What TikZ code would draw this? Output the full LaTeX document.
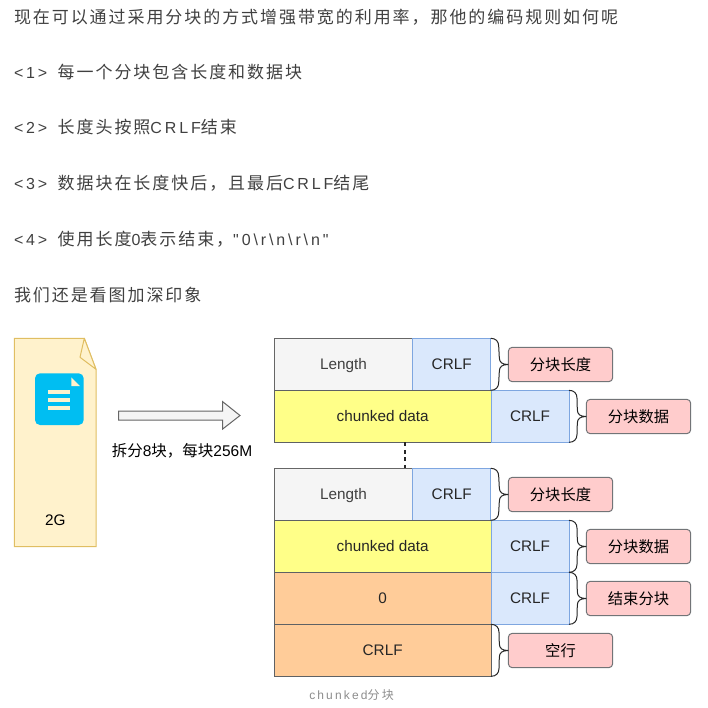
\documentclass[tikz,border=0pt]{standalone}
\usepackage{fontspec}
\usetikzlibrary{calc}
\setmainfont{Liberation Sans}
\newfontfamily\cjk{Noto Sans CJK SC}
\newfontfamily\bodycjk[LetterSpace=11.4]{Noto Sans CJK SC}
\newfontfamily\bodylat[LetterSpace=18]{Liberation Sans}
\newfontfamily\capcjk[LetterSpace=18]{Noto Sans CJK SC}
\newfontfamily\caplat[LetterSpace=18]{Liberation Sans}
\newcommand{\bc}[1]{{\fontsize{17}{20}\selectfont\bodycjk #1}}
\newcommand{\bl}[1]{{\bodylat #1}}
\newcommand{\bgap}{\hspace{10.4pt}}
\definecolor{bodyink}{HTML}{404040}
\definecolor{cellink}{HTML}{36393D}
\definecolor{crlffill}{HTML}{DAE8FC}
\definecolor{crlfline}{HTML}{7EA6E0}
\definecolor{datafill}{HTML}{FFFF88}
\definecolor{endfill}{HTML}{FFCC99}
\definecolor{tagfill}{HTML}{FFCCCC}
\definecolor{docfill}{HTML}{FFF2CC}
\definecolor{docline}{HTML}{E0BE62}
\definecolor{iconblue}{HTML}{00BEF2}
\tikzset{
  x=1pt,y=-1pt,
  every node/.style={inner sep=0pt,outer sep=0pt,font=\fontsize{15.3}{18}\selectfont},
  bodyline/.style={anchor=base west,text=bodyink,font=\fontsize{16}{20}\selectfont},
  cellbase/.style={draw,line width=1pt,anchor=north west,minimum height=52pt,text height=11pt,text depth=0pt,text=black!85},
  lencell/.style={cellbase,fill=black!4,draw=black!60,text=black!75,minimum width=138.4pt},
  crlfbox/.style={cellbase,draw=crlfline,fill=crlffill,minimum width=78pt},
  datacell/.style={cellbase,fill=datafill,draw=cellink!80,minimum width=216.7pt},
  endcell/.style={cellbase,fill=endfill,draw=cellink!80,minimum width=216.7pt},
  tag/.style={draw=cellink!70,line width=1pt,fill=tagfill,rounded corners=4pt,anchor=west,minimum width=104.4pt,minimum height=34.4pt},
  curly/.style={draw=black!85,line width=1pt},
}
\newcommand{\bracket}[2]{%
  \draw[curly] (#1.north east)
    .. controls ($(#1.north east)+(5,0)$) and ($(#1.north east)+(8,3)$) .. ($(#1.north east)+(8,8)$)
    -- ($(#2.west)+(-9,-7)$)
    .. controls ($(#2.west)+(-9,-2)$) and ($(#2.west)+(-6,0)$) .. (#2.west)
    .. controls ($(#2.west)+(-6,0)$) and ($(#2.west)+(-9,2)$) .. ($(#2.west)+(-9,7)$)
    -- ($(#1.south east)+(8,-8)$)
    .. controls ($(#1.south east)+(8,-3)$) and ($(#1.south east)+(5,0)$) .. (#1.south east);}
\begin{document}
\begin{tikzpicture}
\useasboundingbox (0,0) rectangle (708,707);
% body text
\node[bodyline] (t1) at (14,23.3) {\bc{现在可以通过采用分块的方式增强带宽的利用率，那他的编码规则如何呢}};
\node[bodyline] (t2) at (14,78.3) {\bl{<1>}\bgap\bc{每一个分块包含长度和数据块}};
\node[bodyline] (t3) at (14,133.3) {\bl{<2>}\bgap\bc{长度头按照}\bl{CRLF}\bc{结束}};
\node[bodyline] (t4) at (14,189.3) {\bl{<3>}\bgap\bc{数据块在长度快后，且最后}\bl{CRLF}\bc{结尾}};
\node[bodyline] (t5) at (14,245.3) {\bl{<4>}\bgap\bc{使用长度}\bl{0}\bc{表示结束，}\bl{"0\textbackslash r\textbackslash n\textbackslash r\textbackslash n"}};
\node[bodyline] (t6) at (14,301.3) {\bc{我们还是看图加深印象}};
% document
\draw[line width=1pt,draw=docline,fill=docfill] (14.3,338.3) -- (84.3,338.3) -- (96,369.3) -- (96,546.7) -- (14.3,546.7) -- cycle;
\draw[line width=1pt,draw=docline,fill=docfill,line join=round] (84.3,338.3) -- (80,357.3) -- (96,369.3) -- cycle;
\fill[iconblue,rounded corners=5pt] (35,373.3) rectangle (83.7,425);
\fill[docfill] (71.3,377.3) .. controls (74,380) and (77,383) .. (80,386) -- (71.3,386) -- cycle;
\fill[docfill] (47.7,390) rectangle (70.3,394);
\fill[docfill] (47.7,398) rectangle (70.3,402);
\fill[docfill] (47.7,406) rectangle (70.3,410);
\node (size) at (55.3,520) {2G};
% block arrow
\draw[line width=1pt,draw=black!60,fill=black!4,line join=miter] (118.7,411) -- (222.7,411) -- (222.7,401.7) -- (240,415.5) -- (222.7,429) -- (222.7,420) -- (118.7,420) -- cycle;
\node[font=\fontsize{15.5}{18}\selectfont] (split) at (182,451) {{\cjk 拆分}8{\cjk 块，每块}256M};
% first group
\node[lencell] (len1) at (274.3,338.3) {Length};
\node[crlfbox] (cr1) at (412.7,338.3) {CRLF};
\node[datacell] (data1) at (274.3,390.3) {chunked data};
\node[crlfbox] (cr2) at (491,390.3) {CRLF};
\coordinate (gaptop) at (405,442.3);
\coordinate (gapbot) at (405,468.3);
% second group
\node[lencell] (len2) at (274.3,468.3) {Length};
\node[crlfbox] (cr3) at (412.7,468.3) {CRLF};
\node[datacell] (data2) at (274.3,520.3) {chunked data};
\node[crlfbox] (cr4) at (491,520.3) {CRLF};
\node[endcell] (zero) at (274.3,572.3) {0};
\node[crlfbox] (cr5) at (491,572.3) {CRLF};
\node[endcell] (last) at (274.3,624.3) {CRLF};
\draw[line width=1.5pt,dash pattern=on 4pt off 3.5pt,draw=black!85] (gaptop) -- (gapbot);
% tags
\node[tag] (tag1) at (508.3,364.5) {\cjk 分块长度};
\node[tag] (tag2) at (586.3,416.5) {\cjk 分块数据};
\node[tag] (tag3) at (508.3,494.5) {\cjk 分块长度};
\node[tag] (tag4) at (586.3,546.5) {\cjk 分块数据};
\node[tag] (tag5) at (586.3,598.5) {\cjk 结束分块};
\node[tag] (tag6) at (508.3,650.5) {\cjk 空行};
\bracket{cr1}{tag1}
\bracket{cr2}{tag2}
\bracket{cr3}{tag3}
\bracket{cr4}{tag4}
\bracket{cr5}{tag5}
\bracket{last}{tag6}
% caption
\node[text=black!45,font=\fontsize{12}{14}\selectfont] (cap) at (351.5,695.5) {{\caplat chunked}{\capcjk 分块}};
\end{tikzpicture}
\end{document}
